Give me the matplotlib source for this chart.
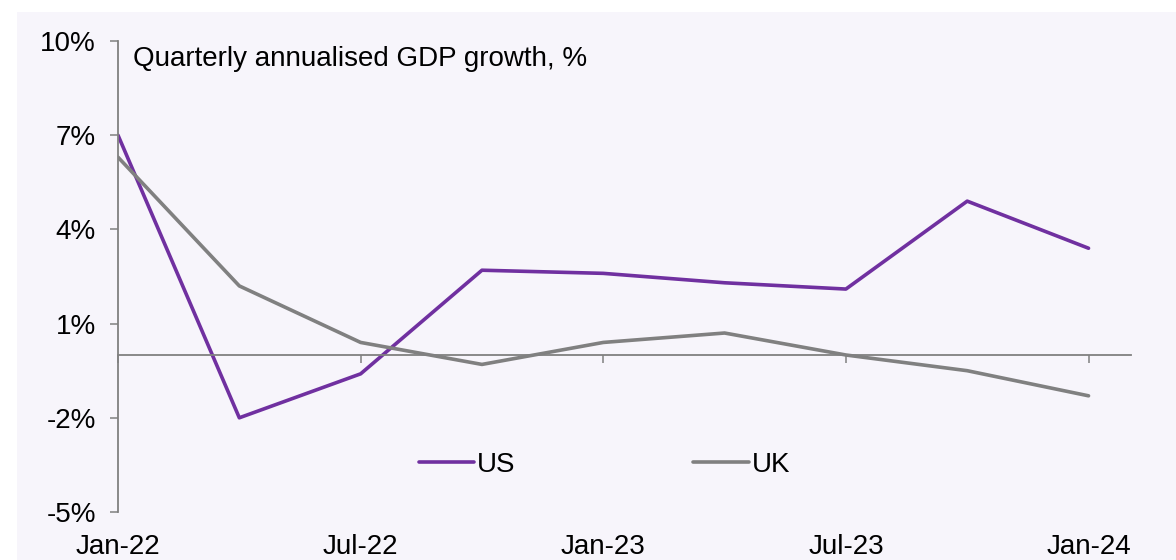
import matplotlib.pyplot as plt
from matplotlib.patches import Rectangle

# Quarterly annualised GDP growth, %
quarters = ['Jan-22', 'Apr-22', 'Jul-22', 'Oct-22', 'Jan-23',
            'Apr-23', 'Jul-23', 'Oct-23', 'Jan-24']
us = [7.0, -2.0, -0.6, 2.7, 2.6, 2.3, 2.1, 4.9, 3.4]
uk = [6.3, 2.2, 0.4, -0.3, 0.4, 0.7, 0.0, -0.5, -1.3]

y_ticks = [-5, -2, 1, 4, 7, 10]

purple = '#7030A0'
grey = '#808080'

plt.rcParams['font.family'] = ['Liberation Sans', 'DejaVu Sans']
plt.rcParams['font.size'] = 20

fig = plt.figure(figsize=(11.76, 5.6), dpi=100)
fig.patch.set_facecolor('white')
# light panel behind the chart
fig.patches.append(Rectangle((17 / 1176, 0), 1, 1 - 12 / 560, transform=fig.transFigure,
                             facecolor='#F7F5FB', edgecolor='none', zorder=-10))

ax = fig.add_axes([118 / 1176, 1 - 512 / 560, (1131 - 118) / 1176, (512 - 41) / 560])
ax.set_facecolor('none')

x = list(range(len(quarters)))
ax.plot(x, us, color=purple, lw=2.6, label='US', solid_capstyle='round')
ax.plot(x, uk, color=grey, lw=2.6, label='UK', solid_capstyle='round')

ax.set_xlim(0, 8.35)
ax.set_ylim(-5, 10)

# y axis
ax.set_yticks(y_ticks)
ax.set_yticklabels([f'{v}%' for v in y_ticks])
ax.tick_params(axis='y', length=6, width=1.1, color=grey, pad=10)
ax.spines['left'].set_color(grey)
ax.spines['left'].set_linewidth(1.3)
for s in ['top', 'right']:
    ax.spines[s].set_visible(False)

# x axis line sits at zero, labels sit at the bottom
ax.spines['bottom'].set_position(('data', 0))
ax.spines['bottom'].set_color(grey)
ax.spines['bottom'].set_linewidth(1.3)
ax.set_xticks(x[::2])
ax.tick_params(axis='x', length=6, width=1.1, color=grey, labelbottom=False)

sec = ax.secondary_xaxis('bottom')
sec.set_xticks(x[::2])
sec.set_xticklabels(quarters[::2])
sec.tick_params(length=0, pad=16)
sec.spines['bottom'].set_visible(False)

ax.text(0.015, 0.99, 'Quarterly annualised GDP growth, %', transform=ax.transAxes,
        ha='left', va='top')

ax.legend(loc='center', bbox_to_anchor=(0.48, 0.1), ncol=2, frameon=False,
          handlelength=2.0, handletextpad=0.1, columnspacing=6.4)

fig.savefig('out.png', dpi=100)
